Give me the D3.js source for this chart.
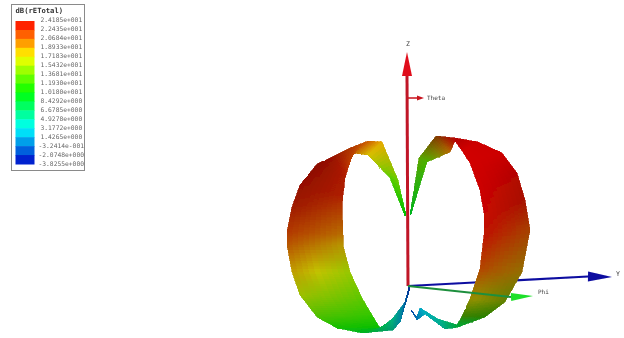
<!DOCTYPE html>
<html>
<head>
<meta charset="utf-8">
<script src="https://cdn.jsdelivr.net/npm/d3@7"></script>
<style>
  html, body { margin: 0; background: #fff; }
  text { font-family: "DejaVu Sans Mono", monospace; }
</style>
</head>
<body>
<svg id="chart" width="624" height="338"></svg>
<script>
// legend labels and their dB values, top to bottom
const legendLabels = ['2.4185e+001','2.2435e+001','2.0684e+001','1.8933e+001','1.7183e+001','1.5432e+001',
  '1.3681e+001','1.1930e+001','1.0180e+001','8.4292e+000','6.6785e+000','4.9278e+000','3.1772e+000',
  '1.4265e+000','-3.2414e-001','-2.0748e+000','-3.8255e+000'];
const legendValues = legendLabels.map(Number);

// pattern surface, [horizontal, vertical], origin at the axes origin
const leftOuter = [[-2,70],[-10,105],[-26,143],[-40,144],[-58,137],[-78,127],[-91,121],[-108,100],[-116,78],[-121,53],[-121,40],[-116,13],[-108,-10],[-91,-32],[-71,-43],[-46,-48],[-15,-45],[-8,-37],[2,-3]];
const leftInner = [[-3,69],[-18,107],[-40,130],[-55,132],[-59,120],[-62,110],[-63,107],[-65,90],[-66,78],[-65,50],[-65,40],[-58,13],[-46,-13],[-36,-30],[-28,-43],[-27,-43],[-15,-33],[-3,-17],[1,-2]];
const leftDbOuter = [10,14,19,21,22,23.5,23.5,23.5,23,22,21,18.5,16,13,11,9,5,2,-2];
const leftDbInner = [10,13,18,20.5,22,23,23,23,22,20,18.5,15.5,13.5,12,10.5,9,5,1,-2];
const leftShadeOuter = [.25,.2,.1,.2,.32,.42,.45,.42,.38,.3,.28,.25,.25,.25,.25,.3,.4,.35,.3];
const leftShadeInner = [.25,.2,.15,.25,.25,.3,.32,.32,.3,.28,.28,.22,.22,.22,.25,.28,.3,.3,.3];

const rightOuter = [[2,70],[11,127],[28,149],[47,147],[70,143],[94,132],[109,112],[117,85],[122,55],[114,13],[97,-17],[77,-32],[50,-42],[37,-44],[17,-29],[9,-35],[3,-25]];
const rightInner = [[3,71],[19,123],[42,133],[47,144],[55,133],[62,122],[72,95],[76,72],[76,50],[72,16],[62,-14],[54,-31],[49,-40],[30,-34],[12,-23],[9,-32],[3,-25]];
const rightDbOuter = [9,14,21,24,24,24,24,23.5,21.5,19,15.5,12.5,8,5,2.5,.5,-1.5];
const rightDbInner = [9,13,20,24,24,24,24,24,23.5,21.5,17.5,13.5,8,4.5,2,.5,-1.5];
const rightShadeOuter = [.3,.35,.5,.3,.2,.2,.3,.35,.35,.42,.5,.5,.35,.35,.25,.25,.25];
const rightShadeInner = [.3,.3,.3,.3,.18,.18,.2,.22,.25,.3,.42,.5,.35,.3,.2,.25,.25];

// axes: start and tip, in the same units
const zAxis = {name:'Z', color:'#c01428', headColor:'#e0101c', tip:[-1,233], base:[-1,209], from:[0,-1], half:5, lineW:3};
const yAxis = {name:'Y', color:'#0a0aa0', tip:[204,8], base:[180,8.5], from:[0,-1], half:5, lineW:2.2};
const phiAxis = {name:'Phi', color:'#1f8f3c', headColor:'#1fe02c', tip:[125,-11], base:[103,-12], from:[0,-1], half:4, lineW:2};
const thetaAxis = {name:'Theta', color:'#c8141e', tip:[16,187], base:[9,187], from:[0,187], half:2.5, lineW:1.5};

const svg = d3.select('#chart');
const x = d3.scaleLinear().domain([-130,130]).range([278,538]);
const y = d3.scaleLinear().domain([-50,235]).range([335,50]);

// HFSS-style rainbow
const colour = d3.scaleLinear()
  .domain([-3.8255,3.1772,10.18,17.183,24.185])
  .range(['#0000c8','#00ffff','#00ff00','#ffff00','#ff0000']);

const defs = svg.append('defs');
defs.append('filter').attr('id','soft').attr('x','-5%').attr('y','-5%').attr('width','110%').attr('height','110%')
  .append('feGaussianBlur').attr('stdDeviation',0.55);

// legend
const legend = svg.append('g').attr('filter','url(#soft)');
legend.append('rect').attr('x',11.5).attr('y',4.5).attr('width',73).attr('height',166)
  .attr('fill','#fff').attr('stroke','#8a8a8a');
legend.append('text').attr('x',15.5).attr('y',13).attr('font-size',7.2).attr('font-weight','bold')
  .attr('fill','#333').text('dB(rETotal)');
const band = d3.scaleBand().domain(d3.range(legendValues.length - 1)).range([21,164]);
legend.selectAll('rect.band').data(d3.pairs(legendValues)).join('rect')
  .attr('class','band').attr('x',15.5).attr('width',19)
  .attr('y',(d,i) => band(i)).attr('height',band.bandwidth() + 0.5)
  .attr('fill',d => colour((d[0]+d[1])/2));
legend.selectAll('text.tick').data(legendLabels).join('text')
  .attr('class','tick').attr('x',d => d[0] === '-' ? 38.5 : 40.5)
  .attr('y',(d,i) => 20 + i*9 + 2.2).attr('font-size',6.3).attr('fill','#666').text(d => d);

function drawAxis(a, g) {
  const line = d3.line().x(d => x(d[0])).y(d => y(d[1]));
  g.append('path').attr('d',line([a.from,a.base])).attr('stroke',a.color)
    .attr('stroke-width',a.lineW).attr('fill','none');
  // arrow head perpendicular to the shaft
  const dx = x(a.tip[0]) - x(a.base[0]), dy = y(a.tip[1]) - y(a.base[1]);
  const n = Math.hypot(dx,dy), px = -dy/n*a.half, py = dx/n*a.half;
  const bx = x(a.base[0]), by = y(a.base[1]);
  g.append('polygon')
    .attr('points',[[x(a.tip[0]),y(a.tip[1])],[bx+px,by+py],[bx-px,by-py]].join(' '))
    .attr('fill',a.headColor || a.color);
}

// surface cells, split finer so the colour runs smoothly between read vertices
function drawLobe(g, outer, inner, dbO, dbI, shadeO, shadeI) {
  const steps = 10;
  const vertexColour = (i, t) => {
    const s = shadeO[i]*(1-t) + shadeI[i]*t;
    return d3.interpolateRgb(colour(dbO[i]*(1-t) + dbI[i]*t),'#000')(s);
  };
  const at = (i, t) => [
    x(outer[i][0])*(1-t) + x(inner[i][0])*t,
    y(outer[i][1])*(1-t) + y(inner[i][1])*t
  ];
  const mix = (p, q, u) => [p[0]*(1-u)+q[0]*u, p[1]*(1-u)+q[1]*u];
  for (let i = 0; i < outer.length - 1; i++) {
    for (let a = 0; a < steps; a++) {
      for (let b = 0; b < steps; b++) {
        const ta = a/steps, tb = b/steps, ta2 = (a+1)/steps, tb2 = (b+1)/steps;
        const p1 = mix(at(i,tb),at(i+1,tb),ta), p2 = mix(at(i,tb),at(i+1,tb),ta2);
        const p3 = mix(at(i,tb2),at(i+1,tb2),ta2), p4 = mix(at(i,tb2),at(i+1,tb2),ta);
        const c = d3.interpolateRgb(
          vertexColour(i,(tb+tb2)/2), vertexColour(i+1,(tb+tb2)/2))((ta+ta2)/2);
        g.append('polygon').attr('points',[p1,p2,p3,p4].join(' '))
          .attr('fill',c).attr('stroke',c).attr('stroke-width',0.7)
          .attr('shape-rendering','crispEdges');
      }
    }
  }
}

const scene = svg.append('g').attr('filter','url(#soft)');
drawAxis(zAxis, scene);
drawAxis(yAxis, scene);
drawAxis(thetaAxis, scene);
drawLobe(scene, leftOuter, leftInner, leftDbOuter, leftDbInner, leftShadeOuter, leftShadeInner);
drawLobe(scene, rightOuter, rightInner, rightDbOuter, rightDbInner, rightShadeOuter, rightShadeInner);
drawAxis(phiAxis, scene);

// axis names
scene.append('text').attr('x',x(0)).attr('y',y(239)).attr('text-anchor','middle')
  .attr('font-size',6.5).attr('fill','#444').text(zAxis.name);
scene.append('text').attr('x',x(19)).attr('y',y(185)).attr('font-size',6).attr('fill','#444').text(thetaAxis.name);
scene.append('text').attr('x',x(208)).attr('y',y(9)).attr('font-size',6.5).attr('fill','#444').text(yAxis.name);
scene.append('text').attr('x',x(130)).attr('y',y(-9)).attr('font-size',6).attr('fill','#444').text(phiAxis.name);
</script>
</body>
</html>
